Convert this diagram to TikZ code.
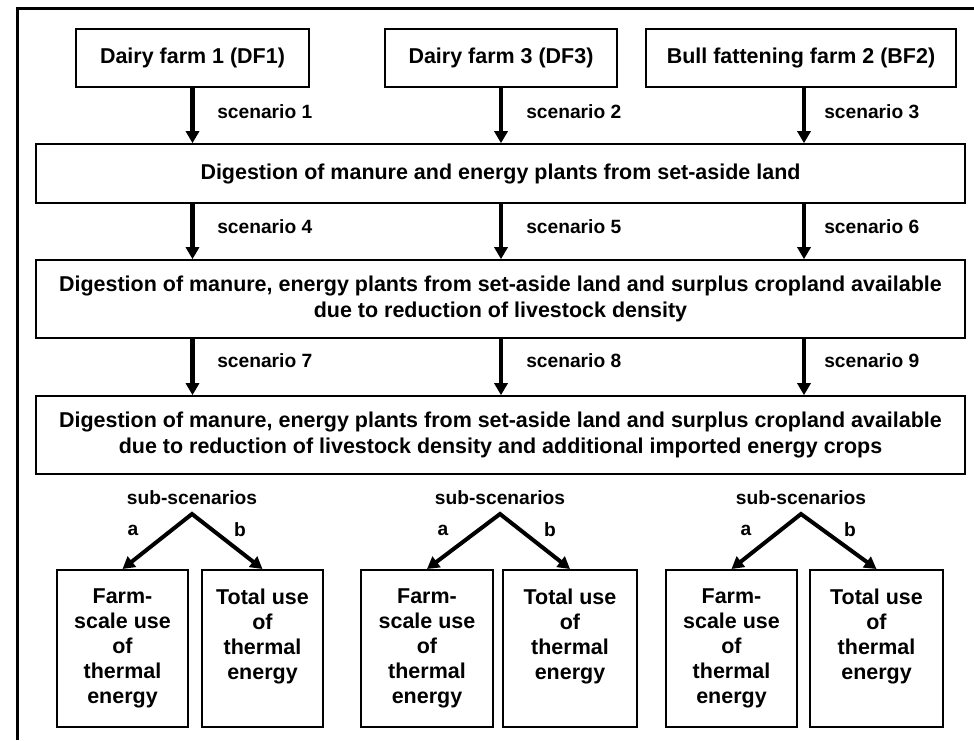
\documentclass[tikz,border=0pt]{standalone}
\usepackage{fontspec}
\setmainfont{Liberation Sans}
\usetikzlibrary{arrows.meta}
\tikzset{
  big/.style={font=\bfseries\fontsize{16.1}{19.5}\selectfont},
  small/.style={font=\bfseries\fontsize{14.4}{17}\selectfont},
  farmbox/.style={big, draw, line width=1.5pt, inner sep=0pt, minimum height=43.5pt, align=center},
  stagebox/.style={big, draw, line width=1.2pt, inner sep=0pt, minimum width=696.75pt, align=center},
  usebox/.style={draw, line width=1.5pt, inner sep=0pt, minimum height=117.75pt, align=center,
    font=\bfseries\fontsize{16.1}{18.75}\selectfont},
  tag/.style={small, inner sep=0pt, anchor=west},
  flow/.style={line width=3.4pt, -{Triangle[width=9.75pt,length=9pt]}},
  fork/.style={line width=3pt, miter limit=20,
    {Triangle[width=9.75pt,length=9pt]}-{Triangle[width=9.75pt,length=9pt]}},
}
\begin{document}
\begin{tikzpicture}[x=0.75pt, y=-0.75pt]
\useasboundingbox (0,0) rectangle (974,740);

% outer frame (left and top edges)
\draw[line width=2.25pt] (17,740) -- (17,8.5) -- (974,8.5);

% farms
\node[farmbox, minimum width=174.75pt] (df1) at (192.5,58) {Dairy farm 1 (DF1)};
\node[farmbox, minimum width=174pt] (df3) at (501,58) {Dairy farm 3 (DF3)};
\node[farmbox, minimum width=232.5pt] (bf2) at (801,58) {Bull fattening farm 2 (BF2)};

% digestion stages
\node[stagebox, minimum height=44.25pt] (st1) at (500.5,173.5)
  {Digestion of manure and energy plants from set-aside land};
\node[stagebox, minimum height=58.5pt] (st2) at (500.5,299)
  {Digestion of manure, energy plants from set-aside land and surplus cropland available\\
   due to reduction of livestock density};
\node[stagebox, minimum height=58.5pt] (st3) at (500.5,435)
  {Digestion of manure, energy plants from set-aside land and surplus cropland available\\
   due to reduction of livestock density and additional imported energy crops};

% farm -> stage 1
\draw[flow] (df1.south) -- (df1.south |- st1.north);
\draw[flow] (df3.south) -- (df3.south |- st1.north);
\draw[flow] ([xshift=2.25pt]bf2.south) -- ([xshift=2.25pt]bf2.south |- st1.north);
% stage 1 -> stage 2
\draw[flow] (df1.south |- st1.south) -- (df1.south |- st2.north);
\draw[flow] (df3.south |- st1.south) -- (df3.south |- st2.north);
\draw[flow] ([xshift=2.25pt]bf2.south |- st1.south) -- ([xshift=2.25pt]bf2.south |- st2.north);
% stage 2 -> stage 3
\draw[flow] (df1.south |- st2.south) -- (df1.south |- st3.north);
\draw[flow] (df3.south |- st2.south) -- (df3.south |- st3.north);
\draw[flow] ([xshift=2.25pt]bf2.south |- st2.south) -- ([xshift=2.25pt]bf2.south |- st3.north);

% scenario labels
\node[tag] (s1) at (217,112) {scenario 1};
\node[tag] (s2) at (526,112) {scenario 2};
\node[tag] (s3) at (824,112) {scenario 3};
\node[tag] (s4) at (217,227) {scenario 4};
\node[tag] (s5) at (526,227) {scenario 5};
\node[tag] (s6) at (824,227) {scenario 6};
\node[tag] (s7) at (217,361) {scenario 7};
\node[tag] (s8) at (526,361) {scenario 8};
\node[tag] (s9) at (824,361) {scenario 9};

% sub-scenario headings and fork points
\node[small, inner sep=0pt] (sub1) at (192,498) {sub-scenarios};
\node[small, inner sep=0pt] (sub2) at (500,498) {sub-scenarios};
\node[small, inner sep=0pt] (sub3) at (801,498) {sub-scenarios};
\coordinate (ap1) at (192,514);
\coordinate (ap2) at (500,514);
\coordinate (ap3) at (801,514);

% thermal energy use boxes (text kept at the top of each box)
\node[usebox, minimum width=98.25pt] (a1) at (122.5,648.5)
  {Farm-\\scale use\\of\\thermal\\energy};
\node[usebox, minimum width=90.75pt] (b1) at (262.5,648.5)
  {Total use\\of\\thermal\\energy\\\vphantom{gy}};
\node[usebox, minimum width=99pt] (a2) at (427,648.5)
  {Farm-\\scale use\\of\\thermal\\energy};
\node[usebox, minimum width=100.5pt] (b2) at (570,648.5)
  {Total use\\of\\thermal\\energy\\\vphantom{gy}};
\node[usebox, minimum width=98.25pt] (a3) at (731.5,648.5)
  {Farm-\\scale use\\of\\thermal\\energy};
\node[usebox, minimum width=99.75pt] (b3) at (876.5,648.5)
  {Total use\\of\\thermal\\energy\\\vphantom{gy}};

% forks
\draw[fork] (a1.north) -- (ap1) -- (b1.north);
\draw[fork] (a2.north) -- (ap2) -- (b2.north);
\draw[fork] (a3.north) -- (ap3) -- (b3.north);

% branch letters
\node[small, inner sep=0pt] (la1) at (133,530) {a};
\node[small, inner sep=0pt] (lb1) at (240,530) {b};
\node[small, inner sep=0pt] (la2) at (443,530) {a};
\node[small, inner sep=0pt] (lb2) at (550,530) {b};
\node[small, inner sep=0pt] (la3) at (746,530) {a};
\node[small, inner sep=0pt] (lb3) at (850,530) {b};
\end{tikzpicture}
\end{document}
